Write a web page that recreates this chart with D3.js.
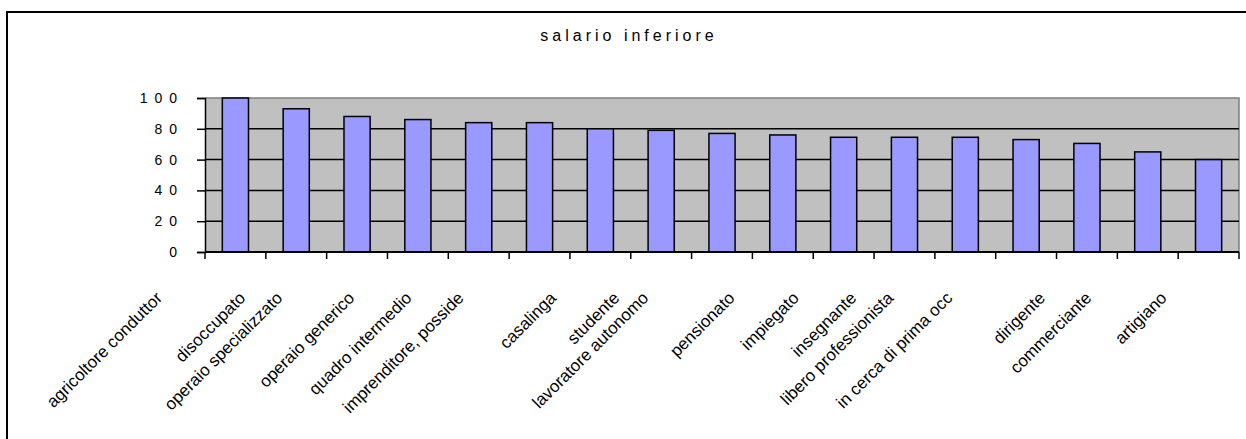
<!DOCTYPE html>
<html>
<head>
<meta charset="utf-8">
<script src="https://cdn.jsdelivr.net/npm/d3@7"></script>
<style>
  body { margin: 0; background: #fff; }
  svg { display: block; font-family: "Liberation Sans", Arial, sans-serif; }
</style>
</head>
<body>
<div id="chart"></div>
<script>
// categories (x axis) and values
const categories = [
  "agricoltore conduttor", "disoccupato", "operaio specializzato", "operaio generico",
  "quadro intermedio", "imprenditore, posside", "casalinga", "studente",
  "lavoratore autonomo", "pensionato", "impiegato", "insegnante",
  "libero professionista", "in cerca di prima occ", "dirigente", "commerciante", "artigiano"
];
const values = [100, 93, 88, 86, 84, 84, 80, 79, 77, 76, 74.5, 74.5, 74.5, 73, 70.5, 65, 60];
const yTicks = [0, 20, 40, 60, 80, 100];
const title = "salario inferiore";

const W = 1246, H = 439;
const plot = { left: 205, right: 1239, top: 98, bottom: 252 };

const svg = d3.select("#chart")
  .append("svg")
  .attr("width", W)
  .attr("height", H);

// chart area border (only left and top visible)
svg.append("rect")
  .attr("x", 7).attr("y", 12)
  .attr("width", W + 20).attr("height", H + 20)
  .attr("fill", "none")
  .attr("stroke", "#000")
  .attr("stroke-width", 2);

const x = d3.scaleBand()
  .domain(categories)
  .range([plot.left, plot.right])
  .paddingInner(0.57)
  .paddingOuter(0.285);

const xStep = d3.scaleBand()
  .domain(categories)
  .range([plot.left, plot.right]);

const y = d3.scaleLinear()
  .domain([0, 100])
  .range([plot.bottom, plot.top]);

// plot area
svg.append("rect")
  .attr("x", plot.left).attr("y", plot.top)
  .attr("width", plot.right - plot.left)
  .attr("height", plot.bottom - plot.top)
  .attr("fill", "#c0c0c0");

svg.append("path")
  .attr("d", `M${plot.left},${plot.top}H${plot.right}V${plot.bottom}`)
  .attr("fill", "none")
  .attr("stroke", "#808080")
  .attr("stroke-width", 1.5);

// gridlines
svg.append("g")
  .selectAll("line")
  .data(yTicks.filter(d => d > 0 && d < 100))
  .join("line")
  .attr("x1", plot.left).attr("x2", plot.right)
  .attr("y1", d => y(d)).attr("y2", d => y(d))
  .attr("stroke", "#000")
  .attr("stroke-width", 1.5);

// bars
svg.append("g")
  .selectAll("rect")
  .data(values)
  .join("rect")
  .attr("x", (d, i) => x(categories[i]))
  .attr("y", d => y(d))
  .attr("width", x.bandwidth())
  .attr("height", d => y(0) - y(d))
  .attr("fill", "#9999ff")
  .attr("stroke", "#000")
  .attr("stroke-width", 1.5);

// y axis
const tickSpacing = 7;
const yAxis = svg.append("g")
  .attr("transform", `translate(${plot.left},0)`)
  .call(d3.axisLeft(y).tickValues(yTicks).tickSize(8).tickPadding(20 - tickSpacing).tickFormat(d3.format("d")));
yAxis.select(".domain").attr("stroke-width", 1.5);
yAxis.selectAll(".tick line").attr("stroke-width", 1.5);
yAxis.selectAll("text")
  .attr("font-size", 14)
  .attr("letter-spacing", tickSpacing)
  .attr("fill", "#000")
  .attr("font-family", "Liberation Sans, Arial, sans-serif");

// x axis line and ticks at category boundaries
svg.append("line")
  .attr("x1", plot.left).attr("x2", plot.right)
  .attr("y1", plot.bottom).attr("y2", plot.bottom)
  .attr("stroke", "#000")
  .attr("stroke-width", 2);

const bounds = categories.map(c => xStep(c)).concat([plot.right]);
svg.append("g")
  .selectAll("line")
  .data(bounds)
  .join("line")
  .attr("x1", d => d).attr("x2", d => d)
  .attr("y1", plot.bottom).attr("y2", plot.bottom + 7)
  .attr("stroke", "#000")
  .attr("stroke-width", 1.5);

// rotated category labels, placed the way the spreadsheet staggers them:
// the upper end shifts left of the band centre as the label gets longer
const labelTop = 292;
const labels = svg.append("g")
  .selectAll("text")
  .data(categories)
  .join("text")
  .attr("font-size", 17)
  .attr("fill", "#000")
  .attr("text-anchor", "end")
  .text(d => d);

labels.attr("transform", function (d) {
  const L = this.getComputedTextLength();
  const cx = xStep(d) + xStep.bandwidth() / 2;
  const ex = cx - 24 - 0.35 * L;
  return `translate(${ex + 6},${labelTop + 7}) rotate(-45)`;
});

// title
svg.append("text")
  .attr("x", 629)
  .attr("y", 41)
  .attr("text-anchor", "middle")
  .attr("font-size", 16)
  .attr("letter-spacing", 4)
  .attr("fill", "#000")
  .text(title);
</script>
</body>
</html>
